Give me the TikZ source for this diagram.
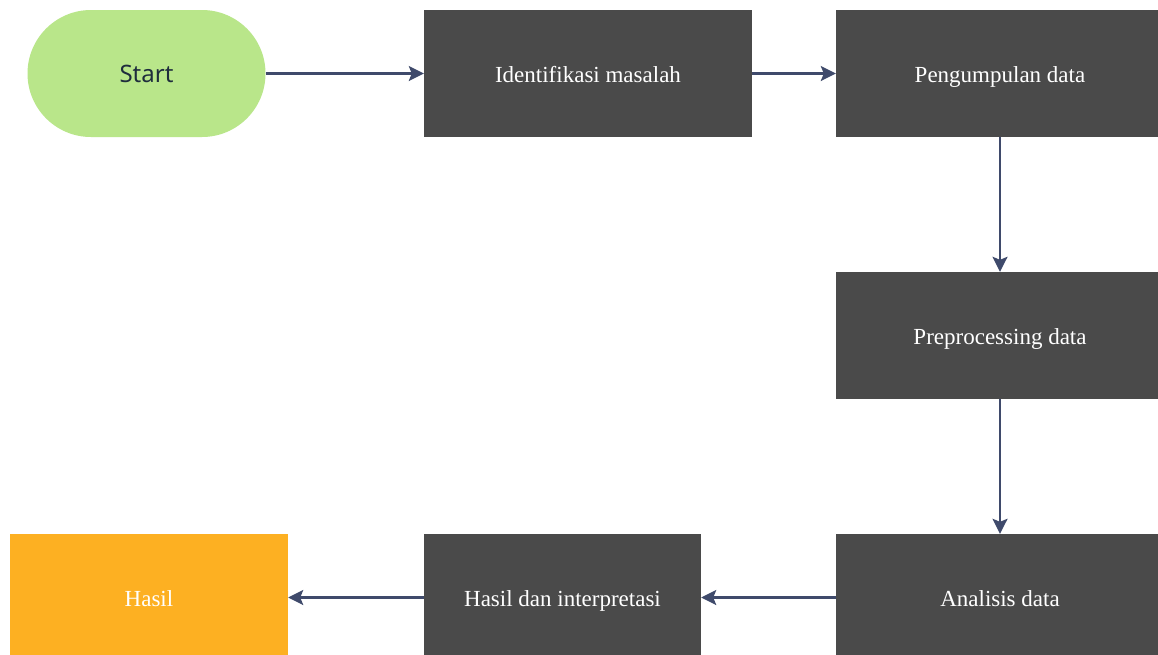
\documentclass[tikz,border=0pt]{standalone}
\usepackage{fontspec}
\setmainfont{Liberation Serif}
\newfontfamily\startfont{Noto Sans}
\usetikzlibrary{arrows.meta,shapes.misc}
\definecolor{startgreen}{HTML}{B9E68A}
\definecolor{boxgray}{HTML}{4A4A4A}
\definecolor{resorange}{HTML}{FDB022}
\definecolor{arrowblue}{HTML}{3F4A6B}
\definecolor{starttext}{HTML}{1F2D3D}
\tikzset{
  basebox/.style={draw=none, inner sep=0pt, minimum height=127pt, text height=19pt, text depth=2pt},
  procbox/.style={basebox, rectangle, fill=boxgray, minimum width=328pt,
    text=white, font=\fontsize{23pt}{27pt}\selectfont},
  terminal/.style={basebox, rounded rectangle, fill=startgreen, minimum width=238pt,
    text=starttext, font=\startfont\fontsize{24pt}{28pt}\selectfont},
  resbox/.style={basebox, rectangle, fill=resorange, minimum width=278pt,
    text=white, font=\fontsize{23pt}{27pt}\selectfont},
  flow/.style={draw=arrowblue, line width=2.2pt, -{Stealth[length=15pt,width=15pt,inset=3pt]}}
}
\begin{document}
\begin{tikzpicture}[x=1pt,y=-1pt]
\useasboundingbox (0,0) rectangle (1158,654);
\fill[white] (0,0) rectangle (1158,654);
\clip (0,0) rectangle (1158,654);
\node[terminal] (start) at (146.5,73.5) {Start};
\node[procbox] (ident) at (588,73.5) {Identifikasi masalah};
\node[procbox] (peng) at (1000,73.5) {Pengumpulan data};
\node[procbox] (prep) at (1000,335.5) {Preprocessing data};
\node[procbox] (anal) at (1000,597.5) {Analisis data};
\node[procbox, minimum width=277pt] (hdi) at (562.5,597.5) {Hasil dan interpretasi};
\node[resbox] (hasil) at (149,597.5) {Hasil};
\draw[flow] (start.east) -- (ident.west);
\draw[flow] (ident.east) -- (peng.west);
\draw[flow] (peng.south) -- (prep.north);
\draw[flow] (prep.south) -- (anal.north);
\draw[flow] (anal.west) -- (hdi.east);
\draw[flow] (hdi.west) -- (hasil.east);
\end{tikzpicture}
\end{document}
